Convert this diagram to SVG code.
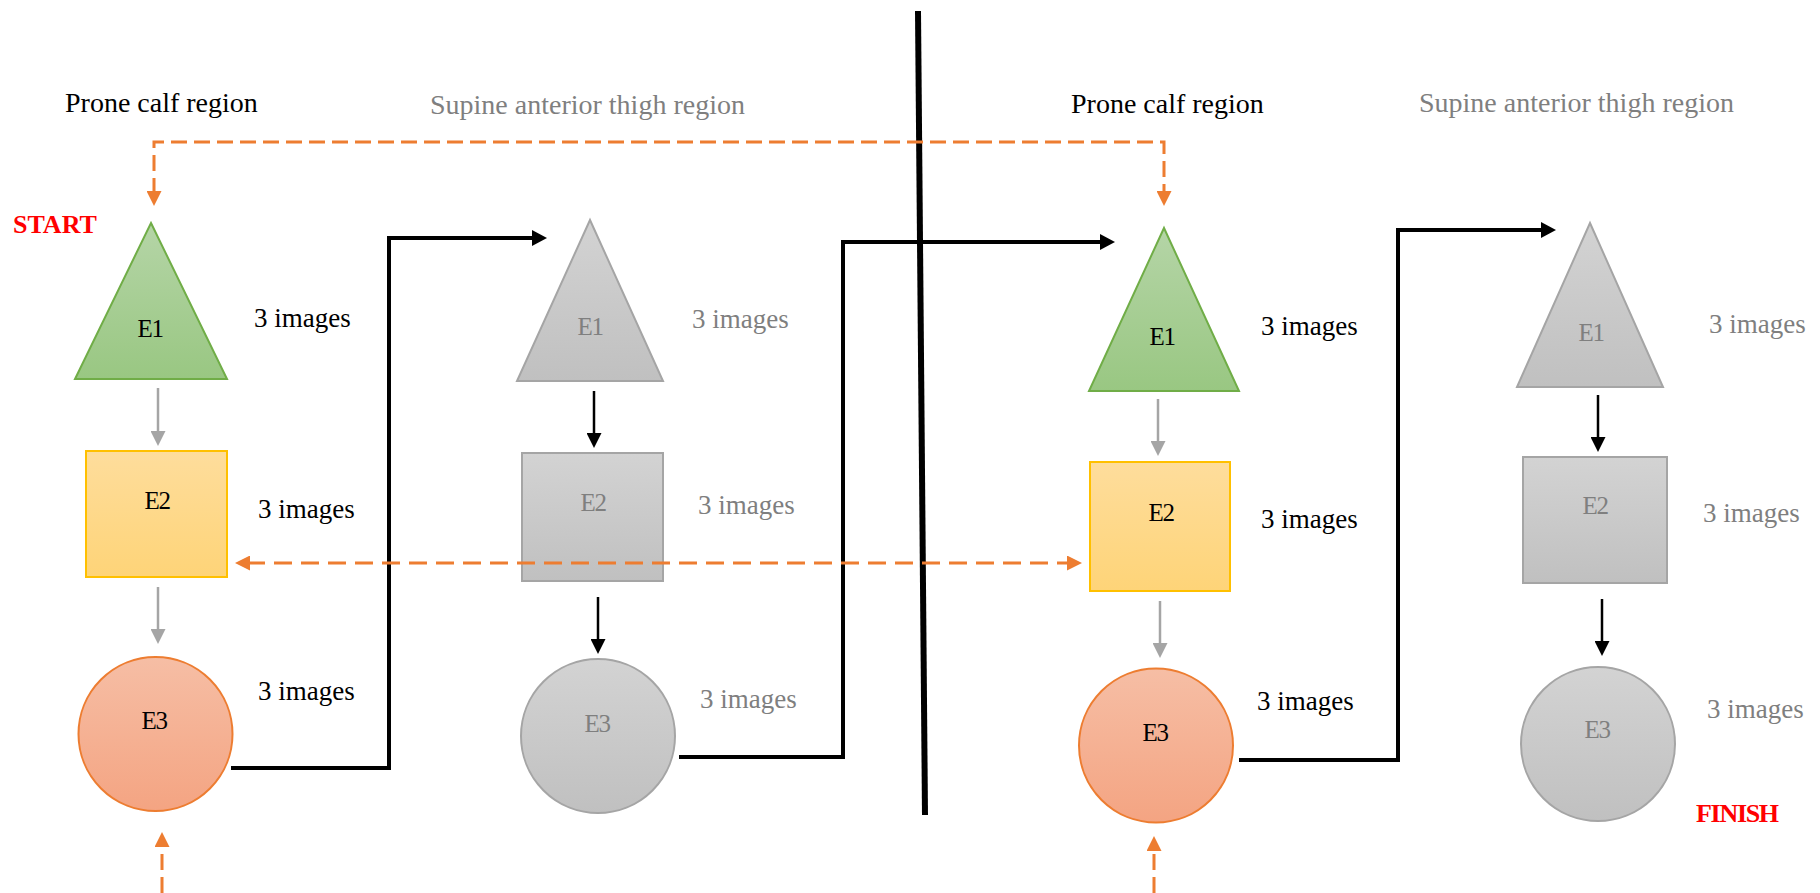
<svg xmlns="http://www.w3.org/2000/svg" width="1820" height="893" viewBox="0 0 1820 893">
<style>
.lbl{font-family:"Liberation Serif","Times New Roman",serif;font-size:27px;}
.hdr{font-size:28px;}
.dark{fill:#000;}
.grey{fill:#7f7f7f;}
.node{font-family:"Liberation Serif","Times New Roman",serif;font-size:25px;letter-spacing:-1.5px;text-anchor:middle;}
.red{font-family:"Liberation Serif","Times New Roman",serif;font-size:26px;font-weight:bold;fill:#ff0000;}
.g-green{fill:url(#gGreen);stroke:#70ad47;stroke-width:2;}
.g-yellow{fill:url(#gYellow);stroke:#ffc000;stroke-width:2;}
.g-orange{fill:url(#gOrange);stroke:#ed7d31;stroke-width:2;}
.g-grey{fill:url(#gGrey);stroke:#a5a5a5;stroke-width:2;}
.ar-grey{stroke:#a5a5a5;stroke-width:2.5;fill:none;marker-end:url(#mGrey);}
.ar-black{stroke:#000;stroke-width:2.5;fill:none;marker-end:url(#mBlack);}
.conn{stroke:#000;stroke-width:4;fill:none;marker-end:url(#mBlackBig);}
.dash{stroke:#ed7d31;stroke-width:3;fill:none;stroke-dasharray:16 7;}
</style>
<defs>
<linearGradient id="gGreen" x1="0" y1="0" x2="0" y2="1"><stop offset="0" stop-color="#b5d5a7"/><stop offset="1" stop-color="#99c782"/></linearGradient>
<linearGradient id="gYellow" x1="0" y1="0" x2="0" y2="1"><stop offset="0" stop-color="#fedd9c"/><stop offset="1" stop-color="#fed478"/></linearGradient>
<linearGradient id="gOrange" x1="0" y1="0" x2="0" y2="1"><stop offset="0" stop-color="#f6bea5"/><stop offset="1" stop-color="#f4a482"/></linearGradient>
<linearGradient id="gGrey" x1="0" y1="0" x2="0" y2="1"><stop offset="0" stop-color="#d3d3d3"/><stop offset="1" stop-color="#c0c0c0"/></linearGradient>
<marker id="mGrey" viewBox="0 0 15 15" refX="3" refY="7.5" markerWidth="15" markerHeight="15" markerUnits="userSpaceOnUse" orient="auto"><path d="M0,0 L15,7.5 L0,15 z" fill="#a5a5a5"/></marker>
<marker id="mBlack" viewBox="0 0 15 15" refX="3" refY="7.5" markerWidth="15" markerHeight="15" markerUnits="userSpaceOnUse" orient="auto"><path d="M0,0 L15,7.5 L0,15 z" fill="#000"/></marker>
<marker id="mBlackBig" viewBox="0 0 15 16" refX="3" refY="8" markerWidth="15" markerHeight="16" markerUnits="userSpaceOnUse" orient="auto"><path d="M0,0 L15,8 L0,16 z" fill="#000"/></marker>
<marker id="mOrange" viewBox="0 0 15 15" refX="3" refY="7.5" markerWidth="15" markerHeight="15" markerUnits="userSpaceOnUse" orient="auto-start-reverse"><path d="M0,0 L15,7.5 L0,15 z" fill="#ed7d31"/></marker>
</defs>

<!-- headers -->
<g id="headers">
<text class="lbl hdr dark" x="65" y="112">Prone calf region</text>
<text class="lbl hdr grey" x="430" y="114">Supine anterior thigh region</text>
<text class="lbl hdr dark" x="1071" y="113">Prone calf region</text>
<text class="lbl hdr grey" x="1419" y="112">Supine anterior thigh region</text>
<text class="red" x="13" y="233">START</text>
<text class="red" x="1696" y="822" style="letter-spacing:-1.3px">FINISH</text>
</g>

<!-- divider -->
<line id="divider" x1="918" y1="11" x2="925" y2="815" stroke="#000" stroke-width="6"/>

<!-- group 1: prone (left) -->
<g id="p1-e1"><polygon class="g-green" points="151,223 227,379 75,379"/><text class="node dark" x="150" y="337">E1</text><text class="lbl dark" x="254" y="327">3 images</text></g>
<g id="p1-e2"><rect class="g-yellow" x="86" y="451" width="141" height="126"/><text class="node dark" x="157" y="509">E2</text><text class="lbl dark" x="258" y="518">3 images</text></g>
<g id="p1-e3"><circle class="g-orange" cx="155.5" cy="734" r="77"/><text class="node dark" x="154" y="729">E3</text><text class="lbl dark" x="258" y="700">3 images</text></g>

<!-- group 2: supine (left) -->
<g id="s1-e1"><polygon class="g-grey" points="590,220 663,381 517,381"/><text class="node grey" x="590" y="335">E1</text><text class="lbl grey" x="692" y="328">3 images</text></g>
<g id="s1-e2"><rect class="g-grey" x="522" y="453" width="141" height="128"/><text class="node grey" x="593" y="511">E2</text><text class="lbl grey" x="698" y="514">3 images</text></g>
<g id="s1-e3"><circle class="g-grey" cx="598" cy="736" r="77"/><text class="node grey" x="597" y="732">E3</text><text class="lbl grey" x="700" y="708">3 images</text></g>

<!-- group 3: prone (right) -->
<g id="p2-e1"><polygon class="g-green" points="1164,228 1239,391 1089,391"/><text class="node dark" x="1162" y="345">E1</text><text class="lbl dark" x="1261" y="335">3 images</text></g>
<g id="p2-e2"><rect class="g-yellow" x="1090" y="462" width="140" height="129"/><text class="node dark" x="1161" y="521">E2</text><text class="lbl dark" x="1261" y="528">3 images</text></g>
<g id="p2-e3"><circle class="g-orange" cx="1156" cy="745.5" r="77"/><text class="node dark" x="1155" y="741">E3</text><text class="lbl dark" x="1257" y="710">3 images</text></g>

<!-- group 4: supine (right) -->
<g id="s2-e1"><polygon class="g-grey" points="1590,223 1663,387 1517,387"/><text class="node grey" x="1591" y="341">E1</text><text class="lbl grey" x="1709" y="333">3 images</text></g>
<g id="s2-e2"><rect class="g-grey" x="1523" y="457" width="144" height="126"/><text class="node grey" x="1595" y="514">E2</text><text class="lbl grey" x="1703" y="522">3 images</text></g>
<g id="s2-e3"><circle class="g-grey" cx="1598" cy="744" r="77"/><text class="node grey" x="1597" y="738">E3</text><text class="lbl grey" x="1707" y="718">3 images</text></g>

<!-- connectors -->
<g id="connectors">
<path class="ar-grey" d="M158,388 V434"/>
<path class="ar-grey" d="M158,587 V632"/>
<path class="ar-black" d="M594,391 V436"/>
<path class="ar-black" d="M598,597 V642"/>
<path class="ar-grey" d="M1158,399 V444"/>
<path class="ar-grey" d="M1160,601 V646"/>
<path class="ar-black" d="M1598,395 V440"/>
<path class="ar-black" d="M1602,599 V644"/>
<path class="conn" d="M231,768 H389 V238 H535"/>
<path class="conn" d="M679,757 H843 V242 H1103"/>
<path class="conn" d="M1239,760 H1398 V230 H1544"/>
<path class="dash" d="M154,194 V142 H1164 V194" marker-start="url(#mOrange)" marker-end="url(#mOrange)"/>
<path class="dash" d="M247,563 H1070" style="stroke-dasharray:18 9" marker-start="url(#mOrange)" marker-end="url(#mOrange)"/>
<path class="dash" d="M162,893 V844" marker-end="url(#mOrange)"/>
<path class="dash" d="M1154,893 V848" marker-end="url(#mOrange)"/>
</g>
</svg>
